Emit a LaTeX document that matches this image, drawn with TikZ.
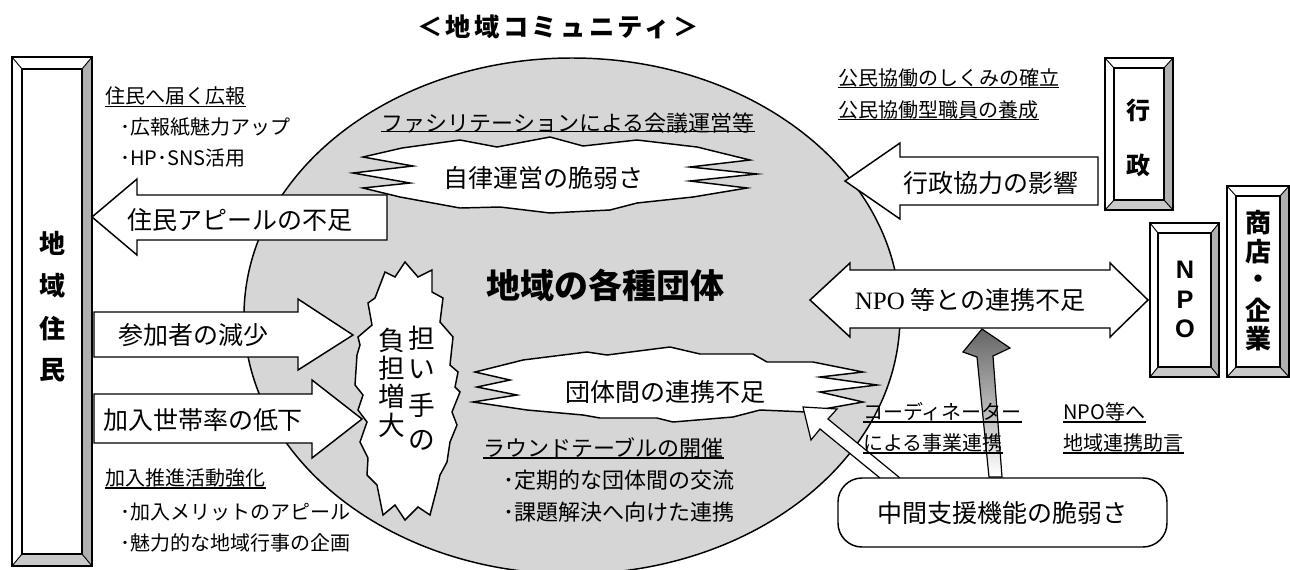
\documentclass[tikz,border=0pt]{standalone}
\usepackage{fontspec}
\setmainfont{Noto Sans CJK JP}
\newfontfamily\lsans{Liberation Sans}
\newfontfamily\lserif{Liberation Serif}
\usetikzlibrary{shapes.geometric}
\newcommand{\bevbox}[6]{%
  \fill[white] (#1,#2) rectangle (#3,#4);
  \fill[gray!62] (#3,#2) -- (#3,#4) -- ({#3-#5},{#4-#6}) -- ({#3-#5},{#2+#6}) -- cycle;
  \fill[gray!42] (#1,#4) -- (#3,#4) -- ({#3-#5},{#4-#6}) -- ({#1+#5},{#4-#6}) -- cycle;
  \draw[line width=0.9pt] (#1,#2) rectangle (#3,#4);
  \draw[line width=0.9pt] ({#1+#5},{#2+#6}) rectangle ({#3-#5},{#4-#6});
  \draw[line width=0.7pt] (#1,#2) -- ({#1+#5},{#2+#6}) (#3,#2) -- ({#3-#5},{#2+#6})
     (#1,#4) -- ({#1+#5},{#4-#6}) (#3,#4) -- ({#3-#5},{#4-#6});
}
\begin{document}
\begin{tikzpicture}[x=0.75pt,y=-0.75pt,
  outl/.style={draw=black,line width=1.1pt,fill=white,line join=miter},
  lbl/.style={inner sep=0pt,font=\fontsize{18.75pt}{20pt}\selectfont},
  ann/.style={inner sep=0pt,anchor=west,font=\fontsize{15pt}{18pt}\selectfont},
  annm/.style={inner sep=0pt,anchor=west,font=\fontsize{16.5pt}{18pt}\selectfont},
  ul/.style={line width=1.1pt},
  bch/.style={inner sep=0pt,font=\bfseries\fontsize{19.5pt}{20pt}\selectfont},
  vch/.style={inner sep=0pt,font=\fontsize{20pt}{20pt}\selectfont}]
\useasboundingbox (0,0) rectangle (1290,569);

% title
\node[inner sep=0pt,font=\bfseries\fontsize{19pt}{20pt}\selectfont\addfontfeature{LetterSpace=13}] (title) at (558,27) {＜地域コミュニティ＞};

% central ellipse
\node[draw,ellipse,line width=1.1pt,fill=black!16,minimum width=492pt,minimum height=387pt,inner sep=0pt] (org) at (572,316) {};

% starburst A
\draw[outl] (402,148) -- (460,140) -- (497,147) -- (550,137) -- (583,146) -- (637,140) -- (697,147)
  -- (750,160) -- (690,167) -- (757,174) -- (690,181) -- (747,188) -- (693,197)
  -- (637,203) -- (610,210) -- (550,213) -- (500,207) -- (460,208) -- (400,197)
  -- (363,188) -- (410,183) -- (353,173) -- (413,166) -- (363,157) -- cycle;
% starburst B
\draw[outl] (523,360) -- (587,352) -- (607,355) -- (670,347) -- (700,354) -- (753,354) -- (767,362) -- (813,362)
  -- (863,372) -- (820,377) -- (877,385) -- (820,392) -- (863,402) -- (807,412)
  -- (760,410) -- (733,417) -- (673,422) -- (657,418) -- (600,418) -- (583,415) -- (527,410)
  -- (473,402) -- (517,395) -- (477,387) -- (510,380) -- (475,372) -- cycle;
% starburst C (vertical)
\draw[outl] (405,262) -- (418,277) -- (432,270) -- (432,292) -- (443,298) -- (440,322) -- (453,337)
  -- (450,365) -- (458,372) -- (455,387) -- (460,392) -- (452,412) -- (457,425) -- (450,442)
  -- (447,462) -- (440,475) -- (437,488) -- (430,515) -- (418,507) -- (405,520) -- (395,505)
  -- (383,515) -- (377,485) -- (367,475) -- (368,458) -- (360,442) -- (367,422) -- (358,410)
  -- (363,395) -- (355,385) -- (357,355) -- (360,345) -- (358,337) -- (372,325) -- (368,303)
  -- (375,298) -- (385,272) -- (395,277) -- cycle;

% block arrows
\draw[outl] (92,217) -- (137,179) -- (137,195) -- (387,195) -- (387,240) -- (137,240) -- (137,255) -- cycle;
\draw[outl] (94,312) -- (298,312) -- (298,299) -- (353,335) -- (298,370) -- (298,357) -- (94,357) -- cycle;
\draw[outl] (94,394) -- (312,394) -- (312,380) -- (362,419) -- (312,458) -- (312,443) -- (94,443) -- cycle;
\draw[outl] (845,181) -- (900,143) -- (900,157) -- (1098,157) -- (1098,205) -- (900,205) -- (900,219) -- cycle;
\draw[outl] (810,300) -- (850,263) -- (850,270) -- (1110,270) -- (1110,263) -- (1148,300) -- (1110,337)
  -- (1110,328) -- (850,328) -- (850,337) -- cycle;
% thin arrow from support box to starburst B
\draw[outl,line width=0.9pt] (880,478) -- (820,429) -- (811,440) -- (803,407) -- (837,409) -- (828,419) -- (900,478);
% gradient arrow
\shade[top color=black!60,bottom color=white,draw=black,line width=0.9pt,line join=miter]
  (989,477) -- (977,357) -- (963,352) -- (982,329) -- (1010,348) -- (993,356) -- (1002,477) -- cycle;

% support box
\node[draw,line width=1.1pt,fill=white,rounded corners=18pt,minimum width=246.75pt,minimum height=51.75pt,inner sep=0pt,
  font=\fontsize{18.75pt}{20pt}\selectfont] (mid) at (1002.5,512.5) {中間支援機能の脆弱さ};

% bevel boxes
\bevbox{12}{57}{92}{566}{10}{12}
\bevbox{1105}{58}{1173}{210}{9}{10}
\bevbox{1150}{223}{1219}{377}{8}{10}
\bevbox{1227}{186}{1289}{377}{9}{10}

% box texts
\node[bch] (r1) at (52,243) {地};
\node[bch] (r2) at (52,286) {域};
\node[bch] (r3) at (52,329) {住};
\node[bch] (r4) at (52,370) {民};
\node[bch,font=\bfseries\fontsize{18pt}{20pt}\selectfont] (g1) at (1138,110) {行};
\node[bch,font=\bfseries\fontsize{18pt}{20pt}\selectfont] (g2) at (1138,165) {政};
\node[inner sep=0pt,font=\lsans\bfseries\fontsize{19pt}{20pt}\selectfont] (n1) at (1185,270) {N};
\node[inner sep=0pt,font=\lsans\bfseries\fontsize{19pt}{20pt}\selectfont] (n2) at (1185,300) {P};
\node[inner sep=0pt,font=\lsans\bfseries\fontsize{19pt}{20pt}\selectfont] (n3) at (1185,329) {O};
\node[bch] (s1) at (1258,223) {商};
\node[bch] (s2) at (1258,252) {店};
\node[bch] (s3) at (1258,282) {・};
\node[bch] (s4) at (1258,310) {企};
\node[bch] (s5) at (1258,339) {業};

% arrow / burst labels
\node[lbl] (a1) at (240,220) {住民アピールの不足};
\node[lbl] (a2) at (193,335) {参加者の減少};
\node[lbl] (a3) at (203,420) {加入世帯率の低下};
\node[lbl] (a4) at (543,178) {自律運営の脆弱さ};
\node[lbl] (a5) at (665,392) {団体間の連携不足};
\node[lbl] (a6) at (991,183) {行政協力の影響};
\node[lbl] (a7) at (970,300) {{\lserif NPO} 等との連携不足};
\node[inner sep=0pt,font=\bfseries\fontsize{25.5pt}{28pt}\selectfont] (org-t) at (605,285) {地域の各種団体};

% vertical text in burst C
\node[vch] (v1) at (422,338) {担};
\node[vch] (v2) at (422,369) {い};
\node[vch] (v3) at (422,405) {手};
\node[vch] (v4) at (422,440) {の};
\node[vch] (v5) at (392,340) {負};
\node[vch] (v6) at (392,368) {担};
\node[vch] (v7) at (392,396) {増};
\node[vch] (v8) at (392,425) {大};

% annotations
\node[ann] (u1) at (105,96) {住民へ届く広報};
\draw[ul] ([yshift=-8pt]u1.west) -- ([yshift=-8pt]u1.east);
\node[ann] (b1) at (120,127) {･広報紙魅力アップ};
\node[ann] (b2) at (120,158) {･HP･SNS活用};
\node[ann] (u2) at (105,478) {加入推進活動強化};
\draw[ul] ([yshift=-7.5pt]u2.west) -- ([yshift=-7.5pt]u2.east);
\node[ann] (b3) at (120,512) {･加入メリットのアピール};
\node[ann] (b4) at (120,543) {･魅力的な地域行事の企画};
\node[annm,anchor=center] (u3) at (568,123) {ファシリテーションによる会議運営等};
\draw[ul] ([yshift=-6.5pt]u3.west) -- ([yshift=-6.5pt]u3.east);
\node[annm] (u4) at (483,448) {ラウンドテーブルの開催};
\draw[ul] ([yshift=-7.5pt]u4.west) -- ([yshift=-7.5pt]u4.east);
\node[annm] (b5) at (503,480) {･定期的な団体間の交流};
\node[annm] (b6) at (503,512) {･課題解決へ向けた連携};
\node[ann] (u5) at (838,78) {公民協働のしくみの確立};
\draw[ul] ([yshift=-7pt]u5.west) -- ([yshift=-7pt]u5.east);
\node[ann] (u6) at (838,110) {公民協働型職員の養成};
\draw[ul] ([yshift=-7pt]u6.west) -- ([yshift=-7pt]u6.east);
\node[ann] (u7) at (863,412) {コーディネーター};
\draw[ul] ([yshift=-7.5pt]u7.west) -- ([yshift=-7.5pt]u7.east);
\node[ann] (u8) at (863,443) {による事業連携};
\draw[ul] ([yshift=-7.5pt]u8.west) -- ([yshift=-7.5pt]u8.east);
\node[ann] (u9) at (1063,412) {NPO等へ};
\draw[ul] ([yshift=-7.5pt]u9.west) -- ([yshift=-7.5pt]u9.east);
\node[ann] (u10) at (1063,443) {地域連携助言};
\draw[ul] ([yshift=-7.5pt]u10.west) -- ([yshift=-7.5pt]u10.east);
\end{tikzpicture}
\end{document}
